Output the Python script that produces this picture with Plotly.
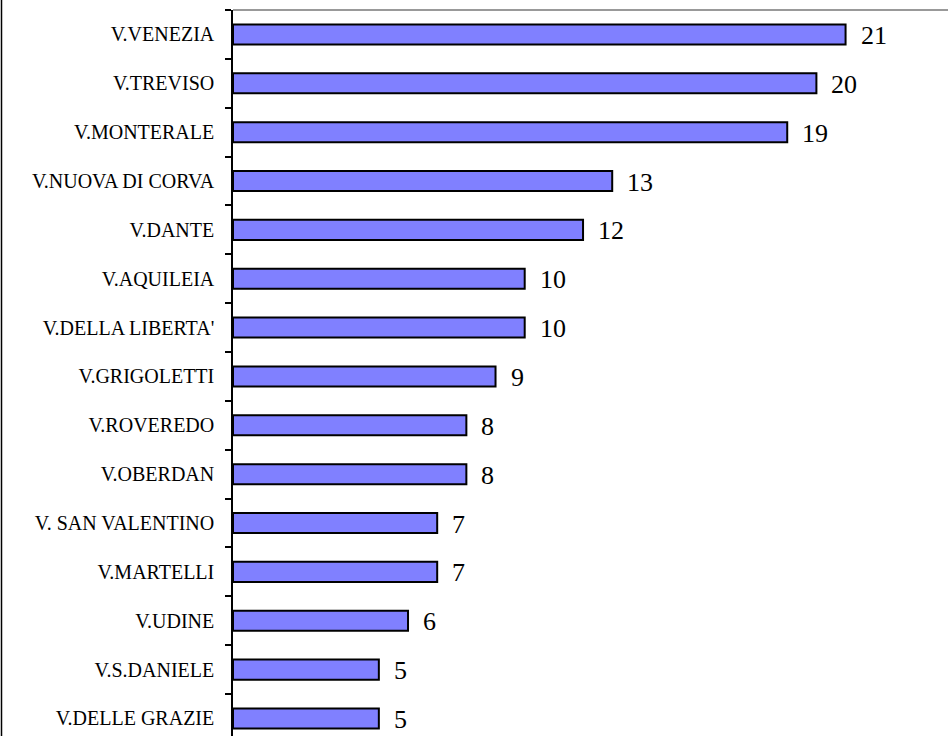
import plotly.graph_objects as go

categories = ["V.VENEZIA", "V.TREVISO", "V.MONTERALE", "V.NUOVA DI CORVA", "V.DANTE",
              "V.AQUILEIA", "V.DELLA LIBERTA'", "V.GRIGOLETTI", "V.ROVEREDO", "V.OBERDAN",
              "V. SAN VALENTINO", "V.MARTELLI", "V.UDINE", "V.S.DANIELE", "V.DELLE GRAZIE"]
values = [21, 20, 19, 13, 12, 10, 10, 9, 8, 8, 7, 7, 6, 5, 5]

W, H = 948, 736
ML, MR, MT, MB = 233, 0, 10, 0
plot_w = W - ML - MR
plot_h = H - MT - MB
band = 48.86
ppu = 29.17

fig = go.Figure()
fig.add_trace(go.Bar(
    x=values, y=categories, orientation="h",
    marker=dict(color="#8080FF", line=dict(color="black", width=2)),
    width=0.41, hoverinfo="skip",
))

for c, v in zip(categories, values):
    fig.add_annotation(x=v, y=c, text=str(v), showarrow=False,
                       xanchor="left", yanchor="middle", xshift=13, yshift=-1,
                       font=dict(family="Liberation Serif", size=26, color="black"))

# left outer border and top plot border
fig.add_shape(type="line", xref="paper", yref="paper",
              x0=(1.5 - ML) / plot_w, x1=(1.5 - ML) / plot_w, y0=-0.1, y1=1 + MT / plot_h,
              line=dict(color="black", width=1.5))
fig.add_shape(type="line", xref="paper", yref="paper",
              x0=0, x1=1.05, y0=1, y1=1,
              line=dict(color="#999999", width=2))

fig.update_layout(
    width=W, height=H,
    margin=dict(l=ML, r=MR, t=MT, b=MB, pad=0),
    plot_bgcolor="white", paper_bgcolor="white",
    showlegend=False,
    xaxis=dict(range=[0, plot_w / ppu], visible=False, fixedrange=True),
    yaxis=dict(
        type="category",
        categoryorder="array", categoryarray=categories,
        range=[-0.5 + plot_h / band, -0.5],
        showline=True, linecolor="black", linewidth=1.5,
        ticks="outside", ticklen=6, tickcolor="black", tickwidth=1.5,
        tickson="boundaries",
        showgrid=False, zeroline=False,
        ticklabelstandoff=13,
        tickfont=dict(family="Liberation Serif", size=20, color="black"),
    ),
)

fig.write_html("out.html",
               config={"displayModeBar": False},
               post_script="document.body.style.margin='0';document.body.style.overflow='hidden';")
